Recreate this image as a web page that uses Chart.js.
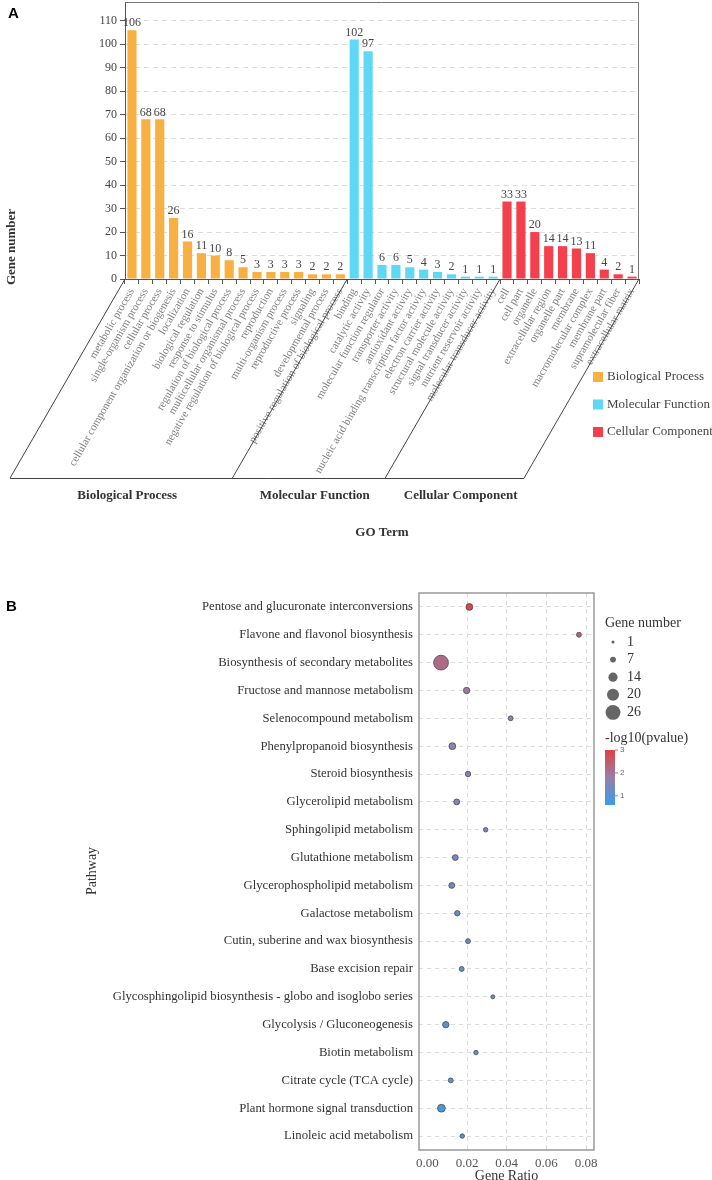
<!DOCTYPE html>
<html>
<head>
<meta charset="utf-8">
<script src="https://cdn.jsdelivr.net/npm/chart.js@4.4.1/dist/chart.umd.min.js"></script>
<style>
body{margin:0;background:#fff;width:712px;height:1180px;overflow:hidden;position:relative}
#goChart{position:absolute;left:0;top:0}
#keggChart{position:absolute;left:0;top:580px}
</style>
</head>
<body>
<canvas id="goChart" width="712" height="550"></canvas>
<canvas id="keggChart" width="712" height="600"></canvas>
<script>

/* =========================
   DATA - panel A (GO terms)
========================= */

let bpTerms = ["metabolic process","single-organism process","cellular process","cellular component organization or biogenesis","localization","biological regulation","response to stimulus","regulation of biological process","multicellular organismal process","negative regulation of biological process","reproduction","multi-organism process","reproductive process","signaling","developmental process","positive regulation of biological process"]
let bpCounts = [106,68,68,26,16,11,10,8,5,3,3,3,3,2,2,2]

let mfTerms = ["binding","catalytic activity","molecular function regulator","transporter activity","antioxidant activity","nucleic acid binding transcription factor activity","electron carrier activity","structural molecule activity","signal transducer activity","nutrient reservoir activity","molecular transducer activity"]
let mfCounts = [102,97,6,6,5,4,3,2,1,1,1]

let ccTerms = ["cell","cell part","organelle","extracellular region","organelle part","membrane","macromolecular complex","membrane part","supramolecular fiber","extracellular matrix"]
let ccCounts = [33,33,20,14,14,13,11,4,2,1]

let groupNames = ["Biological Process","Molecular Function","Cellular Component"]
let groupColors = ["#f7b041","#5fd8f6","#f43f4c"]

/* =========================
   DATA - panel B (KEGG)
========================= */

let pathways = ["Pentose and glucuronate interconversions","Flavone and flavonol biosynthesis","Biosynthesis of secondary metabolites","Fructose and mannose metabolism","Selenocompound metabolism","Phenylpropanoid biosynthesis","Steroid biosynthesis","Glycerolipid metabolism","Sphingolipid metabolism","Glutathione metabolism","Glycerophospholipid metabolism","Galactose metabolism","Cutin, suberine and wax biosynthesis","Base excision repair","Glycosphingolipid biosynthesis - globo and isoglobo series","Glycolysis / Gluconeogenesis","Biotin metabolism","Citrate cycle (TCA cycle)","Plant hormone signal transduction","Linoleic acid metabolism"]
let geneRatio = [0.0212,0.0764,0.0069,0.0198,0.0420,0.0126,0.0205,0.0148,0.0294,0.0141,0.0123,0.0151,0.0205,0.0173,0.0330,0.0093,0.0245,0.0118,0.0071,0.0176]
let geneCount = [9,5,26,8,5,9,6,7,4,7,7,6,5,5,3,8,4,5,11,4]
let logP = [2.95,2.4,2.2,1.9,1.8,1.65,1.55,1.45,1.4,1.35,1.3,1.25,1.2,1.15,1.1,1.05,1.0,0.95,0.85,0.8]

let sizeBreaks = [1,7,14,20,26]
let colorTicks = [1,2,3]
let colorRange = [0.6,3]

const serif = "'Liberation Serif','Times New Roman',serif"
const sans = "'Liberation Sans',Arial,sans-serif"

/* =========================
   HELPERS
========================= */

function line(ctx,x1,y1,x2,y2){
ctx.beginPath()
ctx.moveTo(x1,y1)
ctx.lineTo(x2,y2)
ctx.stroke()
}

function bubbleSize(n){
return 1.3 + 0.235*n
}

// blue -> grey purple -> red
function bubbleColor(v){
let stops = [[0.6,[58,155,235]],[1.8,[150,128,168]],[3,[222,66,66]]]
if(v<=stops[0][0]) return "rgb("+stops[0][1].join(",")+")"
for(let i=1;i<stops.length;i++){
if(v<=stops[i][0]){
let t = (v-stops[i-1][0])/(stops[i][0]-stops[i-1][0])
let c = stops[i-1][1].map((a,k)=>Math.round(a+(stops[i][1][k]-a)*t))
return "rgb("+c.join(",")+")"
}
}
return "rgb("+stops[2][1].join(",")+")"
}

/* =========================
   PANEL A - GO BAR CHART
========================= */

let labelsA = bpTerms.concat(mfTerms, ccTerms)
let nulls = arr => arr.map(()=>null)

let bpData = bpCounts.concat(nulls(mfTerms), nulls(ccTerms))
let mfData = nulls(bpTerms).concat(mfCounts, nulls(ccTerms))
let ccData = nulls(bpTerms).concat(nulls(mfTerms), ccCounts)

const goDecor = {
id:"goDecor",
afterDraw(chart){
let ctx = chart.ctx
let a = chart.chartArea
let x = chart.scales.x
ctx.save()

/* frame top and right */
ctx.strokeStyle = "#777"
ctx.lineWidth = 1
ctx.beginPath()
ctx.moveTo(a.left,a.top+0.5)
ctx.lineTo(a.right-0.5,a.top+0.5)
ctx.lineTo(a.right-0.5,a.bottom)
ctx.stroke()

/* value labels */
ctx.font = "12px "+serif
ctx.fillStyle = "#444"
ctx.textAlign = "center"
ctx.textBaseline = "bottom"
chart.data.datasets.forEach((ds,di)=>{
chart.getDatasetMeta(di).data.forEach((bar,i)=>{
if(ds.data[i]==null) return
ctx.fillText(ds.data[i], bar.x, bar.y-1)
})
})

/* slanted group frames */
let step = x.getPixelForValue(1) - x.getPixelForValue(0)
let cuts = [0, bpTerms.length, bpTerms.length+mfTerms.length, labelsA.length]
let bounds = cuts.map(i => x.getPixelForValue(0) - step/2 + i*step)
let drop = 199
let shift = drop/Math.tan(60*Math.PI/180)

ctx.strokeStyle = "#444"
bounds.forEach(bx => line(ctx,bx,a.bottom,bx-shift,a.bottom+drop))
line(ctx,bounds[0]-shift,a.bottom+drop+0.5,bounds[3]-shift,a.bottom+drop+0.5)

ctx.font = "bold 13px "+serif
ctx.fillStyle = "#333"
ctx.textBaseline = "middle"
groupNames.forEach((g,i)=>{
let cx = (bounds[i]+bounds[i+1])/2 - shift + 6
ctx.fillText(g, cx, a.bottom+drop+18)
})

ctx.fillText("GO Term", 382, 533)

/* y title */
ctx.save()
ctx.translate(12,247)
ctx.rotate(-Math.PI/2)
ctx.fillText("Gene number",0,0)
ctx.restore()

/* panel letter */
ctx.font = "bold 15px "+sans
ctx.fillStyle = "#000"
ctx.textAlign = "left"
ctx.fillText("A", 8, 14)

/* legend */
ctx.font = "13px "+serif
groupNames.forEach((g,i)=>{
let ly = 377 + i*27.5
ctx.fillStyle = groupColors[i]
ctx.fillRect(593, ly-5, 10, 10)
ctx.fillStyle = "#444"
ctx.fillText(g, 607, ly)
})

ctx.restore()
}
}

new Chart(document.getElementById("goChart"),{
type:"bar",
data:{
labels:labelsA,
datasets:[
{label:groupNames[0],data:bpData,backgroundColor:groupColors[0]},
{label:groupNames[1],data:mfData,backgroundColor:groupColors[1]},
{label:groupNames[2],data:ccData,backgroundColor:groupColors[2]}
]
},
options:{
responsive:false,
animation:false,
layout:{padding:{top:2,right:73,left:0,bottom:0}},
datasets:{bar:{grouped:false,barPercentage:0.66,categoryPercentage:1}},
plugins:{legend:{display:false},tooltip:{enabled:false}},
scales:{
x:{
grid:{drawOnChartArea:false,tickLength:5,tickColor:"#555"},
border:{color:"#555"},
ticks:{autoSkip:false,minRotation:60,maxRotation:60,padding:2,color:"#808080",font:{family:serif,size:11}},
afterFit(s){ s.height = 271; s.paddingLeft = 0; s.paddingRight = 0 }
},
y:{
min:0,
max:118,
ticks:{stepSize:10,includeBounds:false,padding:3,color:"#444",font:{family:serif,size:12}},
grid:{color:"#dcdcdc",tickColor:"#555",tickLength:5},
border:{color:"#555",dash:[5,4]},
afterFit(s){ s.width = 125; s.paddingTop = 0; s.paddingBottom = 0 }
}
}
},
plugins:[goDecor]
})

/* =========================
   PANEL B - KEGG BUBBLES
========================= */

const keggDecor = {
id:"keggDecor",
afterDraw(chart){
let ctx = chart.ctx
let a = chart.chartArea
ctx.save()

/* plot box */
ctx.strokeStyle = "#999"
ctx.lineWidth = 1.5
ctx.strokeRect(a.left, a.top, a.right-a.left, a.bottom-a.top)

ctx.fillStyle = "#333"
ctx.textAlign = "center"
ctx.textBaseline = "middle"
ctx.font = "14px "+serif
ctx.fillText("Gene Ratio", (a.left+a.right)/2, 596)

ctx.save()
ctx.translate(92,291)
ctx.rotate(-Math.PI/2)
ctx.fillText("Pathway",0,0)
ctx.restore()

ctx.font = "bold 15px "+sans
ctx.fillStyle = "#000"
ctx.textAlign = "left"
ctx.fillText("B", 6, 27)

/* size legend */
ctx.font = "14px "+serif
ctx.fillStyle = "#333"
ctx.fillText("Gene number", 605, 43)
sizeBreaks.forEach((n,i)=>{
let ly = 62 + i*17.6
ctx.fillStyle = "#666"
ctx.beginPath()
ctx.arc(613, ly, bubbleSize(n), 0, Math.PI*2)
ctx.fill()
ctx.fillStyle = "#333"
ctx.fillText(n, 627, ly)
})

/* colour legend */
ctx.fillText("-log10(pvalue)", 605, 158)
let top = 170, bot = 225
let grad = ctx.createLinearGradient(0,bot,0,top)
for(let k=0;k<=10;k++){
let v = colorRange[0] + (colorRange[1]-colorRange[0])*k/10
grad.addColorStop(k/10, bubbleColor(v))
}
ctx.fillStyle = grad
ctx.fillRect(605, top, 10, bot-top)
ctx.font = "8px "+sans
ctx.strokeStyle = "#888"
ctx.lineWidth = 1
colorTicks.forEach(v=>{
let ty = bot - (v-colorRange[0])/(colorRange[1]-colorRange[0])*(bot-top)
line(ctx,615,ty,618,ty)
ctx.fillStyle = "#666"
ctx.fillText(v, 620, ty)
})

ctx.restore()
}
}

new Chart(document.getElementById("keggChart"),{
type:"scatter",
data:{
datasets:[{
label:"Pathway",
data:pathways.map((p,i)=>({x:geneRatio[i], y:p})),
pointRadius:c => bubbleSize(geneCount[c.dataIndex]),
pointHoverRadius:c => bubbleSize(geneCount[c.dataIndex]),
pointBackgroundColor:c => bubbleColor(logP[c.dataIndex]),
pointBorderColor:"#4a4a4a",
pointBorderWidth:0.8
}]
},
options:{
responsive:false,
animation:false,
layout:{padding:{top:13,right:118,left:0,bottom:0}},
plugins:{legend:{display:false},tooltip:{enabled:false}},
scales:{
x:{
type:"linear",
min:-0.0042,
max:0.084,
ticks:{stepSize:0.02,includeBounds:false,padding:6,color:"#555",font:{family:serif,size:13},callback:v=>v.toFixed(2)},
grid:{drawTicks:false,color:c => (c.tick && Math.abs(c.tick.value)<1e-9) ? "rgba(0,0,0,0)" : "#dcdcdc"},
border:{display:false,dash:[4,4]},
afterFit(s){ s.height = 30; s.paddingLeft = 0; s.paddingRight = 0 }
},
y:{
type:"category",
labels:pathways,
offset:true,
ticks:{autoSkip:false,padding:6,color:"#333",font:{family:serif,size:12.7}},
grid:{drawTicks:false,color:"#dcdcdc"},
border:{display:false,dash:[4,4]},
afterFit(s){ s.width = 419; s.paddingTop = 0; s.paddingBottom = 0 }
}
}
},
plugins:[keggDecor]
})

</script>
</body>
</html>
